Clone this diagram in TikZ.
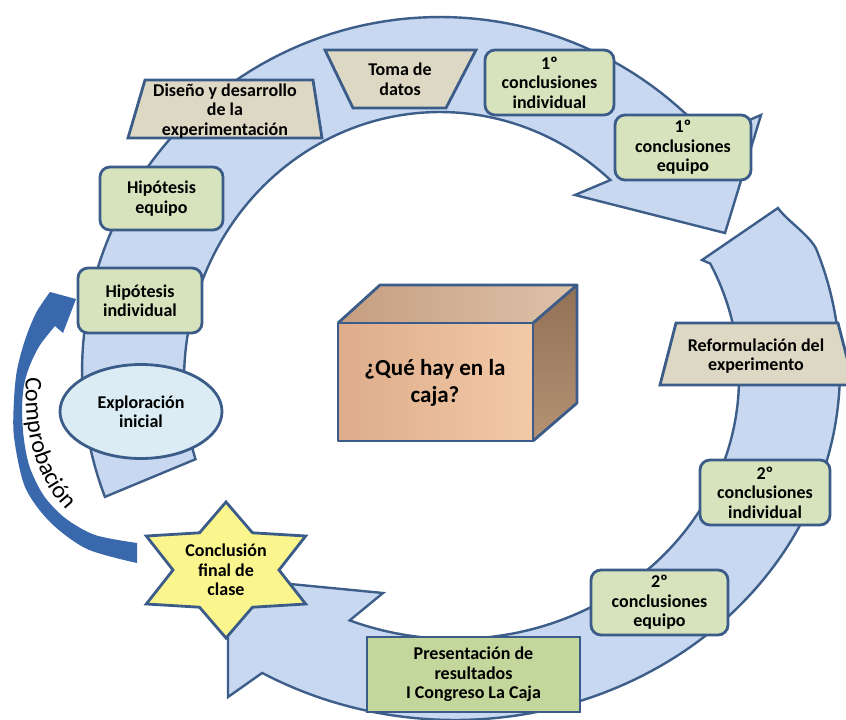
\documentclass[tikz,border=0pt]{standalone}
\usepackage{fontspec}
\setmainfont{Carlito}
\usetikzlibrary{shapes.geometric,decorations.text}
\definecolor{bordercol}{RGB}{59,92,136}
\definecolor{ringfill}{RGB}{201,216,241}
\definecolor{ringedge}{RGB}{62,94,138}
\definecolor{greenfill}{RGB}{215,227,188}
\definecolor{presfill}{RGB}{195,214,155}
\definecolor{tanfill}{RGB}{221,216,196}
\definecolor{aquafill}{RGB}{219,236,244}
\definecolor{starfill}{RGB}{250,245,140}
\definecolor{comparrow}{RGB}{58,104,172}
\definecolor{cubefrontA}{RGB}{222,172,138}
\definecolor{cubefrontB}{RGB}{242,202,168}
\definecolor{cubetopA}{RGB}{198,158,128}
\definecolor{cubetopB}{RGB}{222,194,170}
\definecolor{cubesideA}{RGB}{146,112,86}
\definecolor{cubesideB}{RGB}{182,146,116}
\tikzset{
  bd/.style={draw=bordercol, line width=2.8pt},
  txt/.style={font=\bfseries\fontsize{18}{19.5}\selectfont, align=center, text=black, inner sep=0pt},
  greenbox/.style={bd, fill=greenfill, rounded corners=10pt, txt},
  presbox/.style={bd, fill=presfill, txt},
  aquabox/.style={bd, fill=aquafill, ellipse, txt},
  tanbox/.style={bd, fill=tanfill, line join=miter},
  ring/.style={fill=ringfill, draw=ringedge, line width=2.4pt, line join=miter},
  starbox/.style={bd, fill=starfill, line join=miter},
  cubeedge/.style={draw=bordercol, line width=2.8pt, line join=round},
}
\begin{document}
\begin{tikzpicture}[x=1pt,y=-1pt]
\useasboundingbox (0,0) rectangle (846,720);
\fill[white] (0,0) rectangle (846,720);

% ring arrow 1 (left and top)
\filldraw[ring] plot[domain=159.4:318.65, samples=90] ({440+358*cos(\x)},{372+355*sin(\x)})
  -- (761,115) -- (725,233) -- (575,195)
  -- plot[domain=311.74:162.8, samples=90] ({440+256*cos(\x)},{380+268*sin(\x)}) -- cycle;

% ring arrow 2 (right and bottom)
\filldraw[ring] (778,208) .. controls (786,220) and (811,236) .. ({455+385*cos(-20)},{370+350*sin(-20)})
  -- plot[domain=-20:120.06, samples=100] ({455+385*cos(\x)},{370+350*sin(\x)})
  -- (228,697) -- (228,578) -- (383,593)
  -- plot[domain=111.77:-26, samples=100] ({455+284*cos(\x)},{378+261*sin(\x)})
  -- (702,260) -- cycle;

% Comprobacion arrow
\fill[comparrow] plot[smooth] coordinates {(137,563) (87,549) (50,522) (25,487) (14,437) (14,400) (17,370) (25,340) (36,313) (50,292)}
  -- (76,299) -- (63,333) -- (55,326)
  -- plot[smooth] coordinates {(55,326) (40,345) (30,365) (24,385) (22,410) (24,440) (30,468) (44,496) (65,518) (95,535) (137,543)} -- cycle;
\path[decorate, decoration={text along path, text={|\fontsize{24}{24}\selectfont|Comprobación}, text align={left}}]
  (26,377) .. controls (23,440) and (38,495) .. (92,532);

% trapezoid boxes
\filldraw[tanbox] (145,80) -- (313,80) -- (322,138) -- (128,138) -- cycle;
\node[txt] (dis) at (225,111) {Diseño y desarrollo\\de la\\experimentación};
\filldraw[tanbox] (325,50) -- (476,50) -- (446,108) -- (353,108) -- cycle;
\node[txt] (toma) at (400,79.5) {Toma de\\datos};
\filldraw[tanbox] (676,323) -- (838,323) -- (854,385) -- (660,385) -- cycle;
\node[txt] (ref) at (756,356) {Reformulación del\\experimento};

% rounded boxes
\node[greenbox, minimum width=129, minimum height=65] (c1i) at (549.5,82.5) {1º\\conclusiones\\individual};
\node[greenbox, minimum width=136, minimum height=65] (c1e) at (683,147.5) {1º\\conclusiones\\equipo};
\node[greenbox, minimum width=123, minimum height=63] (hipe) at (161.5,198.5) {Hipótesis\\equipo};
\node[greenbox, minimum width=124, minimum height=65] (hipi) at (140,300.5) {Hipótesis\\individual};
\node[greenbox, minimum width=130, minimum height=65] (c2i) at (765,492.5) {2º\\conclusiones\\individual};
\node[greenbox, minimum width=137, minimum height=65] (c2e) at (659.5,602.5) {2º\\conclusiones\\equipo};
\node[presbox, minimum width=213, minimum height=75] (pres) at (473.5,674.5) {Presentación de\\resultados\\I Congreso La Caja};
\node[aquabox, minimum width=162, minimum height=94] (expl) at (141,411.5) {Exploración\\inicial};

% star
\filldraw[starbox] (226,502) -- (252.5,532.8) -- (305.7,536) -- (279,570) -- (305.7,604) -- (252.5,607.2)
  -- (226,638) -- (199.5,607.2) -- (146.3,604) -- (173,570) -- (146.3,536) -- (199.5,532.8) -- cycle;
\node[txt] (concl) at (226,570) {Conclusión\\final de\\clase};

% cube
\path[left color=cubefrontA, right color=cubefrontB] (338,323) rectangle (533,441);
\path[left color=cubetopA, right color=cubetopB] (338,323) -- (380,285) -- (577,285) -- (533,323) -- cycle;
\path[top color=cubesideA, bottom color=cubesideB] (533,323) -- (577,285) -- (577,403) -- (533,441) -- cycle;
\draw[cubeedge] (338,323) rectangle (533,441);
\draw[cubeedge] (338,323) -- (380,285) -- (577,285) -- (533,323);
\draw[cubeedge] (577,285) -- (577,403) -- (533,441);
\node[font=\bfseries\fontsize{23}{27}\selectfont, align=center, text=black] (caja) at (435,383) {¿Qué hay en la\\caja?};
\end{tikzpicture}
\end{document}
